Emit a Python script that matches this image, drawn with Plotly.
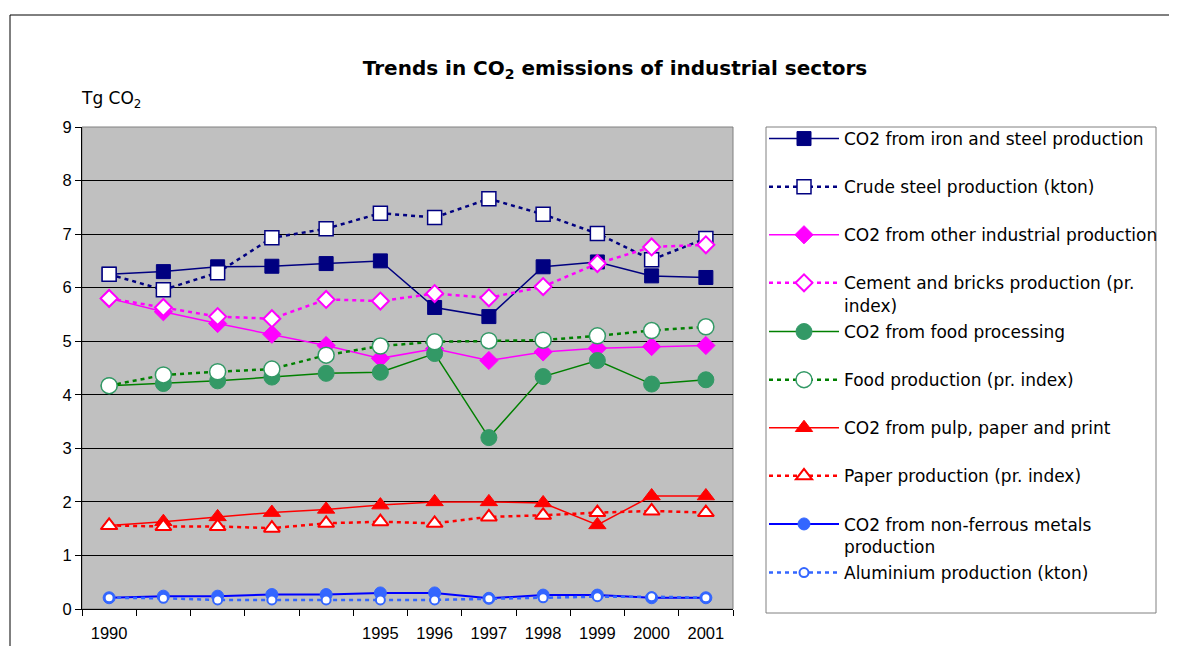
import plotly.graph_objects as go

years = [1990, 1991, 1992, 1993, 1994, 1995, 1996, 1997, 1998, 1999, 2000, 2001]
tick_years = [1990, 1995, 1996, 1997, 1998, 1999, 2000, 2001]

iron_steel = [6.25, 6.30, 6.39, 6.40, 6.45, 6.50, 5.63, 5.46, 6.39, 6.48, 6.22, 6.19]
crude_steel = [6.25, 5.96, 6.28, 6.93, 7.10, 7.39, 7.31, 7.66, 7.37, 7.01, 6.52, 6.92]
other_ind = [5.80, 5.55, 5.33, 5.13, 4.92, 4.68, 4.86, 4.64, 4.80, 4.87, 4.90, 4.92]
cement = [5.80, 5.63, 5.46, 5.42, 5.78, 5.75, 5.89, 5.81, 6.02, 6.45, 6.76, 6.80]
food_co2 = [4.17, 4.21, 4.26, 4.33, 4.40, 4.42, 4.77, 3.20, 4.34, 4.64, 4.20, 4.28]
food_prod = [4.17, 4.37, 4.43, 4.48, 4.74, 4.91, 4.99, 5.01, 5.02, 5.10, 5.20, 5.27]
pulp_co2 = [1.56, 1.63, 1.72, 1.80, 1.86, 1.94, 2.00, 2.00, 1.98, 1.57, 2.11, 2.11]
paper_prod = [1.56, 1.54, 1.54, 1.51, 1.60, 1.63, 1.60, 1.72, 1.75, 1.80, 1.83, 1.80]
nonferrous = [0.21, 0.24, 0.24, 0.27, 0.27, 0.30, 0.30, 0.20, 0.26, 0.26, 0.21, 0.21]
aluminium = [0.21, 0.20, 0.17, 0.17, 0.17, 0.17, 0.17, 0.19, 0.21, 0.23, 0.23, 0.21]

names = [
    "CO2 from iron and steel production",
    "Crude steel production (kton)",
    "CO2 from other industrial production",
    "Cement and bricks production (pr.<br>index)",
    "CO2 from food processing",
    "Food production (pr. index)",
    "CO2 from pulp, paper and print",
    "Paper production (pr. index)",
    "CO2 from non-ferrous metals<br>production",
    "Aluminium production (kton)",
]
legend_of = ["legend", "legend", "legend", "legend",
             "legend2", "legend2", "legend2", "legend2", "legend2",
             "legend3"]

DOT = "4px,4px"
styles = [
    (iron_steel, dict(color="#000080", width=1.5), dict(symbol="square", size=14, color="#000080", line=dict(color="#000080", width=1))),
    (crude_steel, dict(color="#000080", width=2.5, dash=DOT), dict(symbol="square", size=14, color="white", line=dict(color="#000080", width=1.5))),
    (other_ind, dict(color="#FF00FF", width=1.5), dict(symbol="diamond", size=14, color="#FF00FF", line=dict(color="#FF00FF", width=1))),
    (cement, dict(color="#FF00FF", width=2.5, dash=DOT), dict(symbol="diamond", size=13, color="white", line=dict(color="#FF00FF", width=2))),
    (food_co2, dict(color="#008000", width=1.5), dict(symbol="circle", size=16, color="#339966", line=dict(color="#339966", width=1))),
    (food_prod, dict(color="#008000", width=2.5, dash=DOT), dict(symbol="circle", size=16, color="white", line=dict(color="#339966", width=1.5))),
    (pulp_co2, dict(color="#FF0000", width=1.5), dict(symbol="triangle-up", size=15, color="#FF0000", line=dict(color="#FF0000", width=1))),
    (paper_prod, dict(color="#FF0000", width=2.5, dash=DOT), dict(symbol="triangle-up", size=14, color="white", line=dict(color="#FF0000", width=2))),
    (nonferrous, dict(color="#0000FF", width=2), dict(symbol="circle", size=12, color="#3366FF", line=dict(color="#3366FF", width=1))),
    (aluminium, dict(color="#3366FF", width=2.5, dash=DOT), dict(symbol="circle", size=9, color="white", line=dict(color="#3366FF", width=2))),
]

fig = go.Figure()
for i, (vals, ln, mk) in enumerate(styles):
    fig.add_trace(go.Scatter(
        x=years, y=vals, name=names[i], mode="lines+markers",
        line=ln, marker=mk, legendgroup=f"g{i}", legend=legend_of[i],
    ))

SANS = "Liberation Sans, Arial, sans-serif"
WIDE = "DejaVu Sans, sans-serif"

# page body has an 8px margin; work in window coordinates and convert
OFF = 8
W, H = 1177 - OFF, 646 - OFF
PL, PR, PT, PB = 82, 733, 127, 609  # plot area in window coords
L, R, T, B = PL - OFF, W - (PR - OFF), PT - OFF, H - (PB - OFF)
pw, ph = PR - PL, PB - PT

def px_x(x):
    return (x - PL) / pw

def px_y(y):
    return (PB - y) / ph

def leg(top_y):
    return dict(
        x=px_x(764), xanchor="left", y=px_y(top_y), yanchor="top",
        bgcolor="rgba(0,0,0,0)", borderwidth=0,
        font=dict(family=WIDE, size=17, color="black"),
        traceorder="grouped", tracegroupgap=23, valign="top",
        itemwidth=70, maxheight=600,
    )

fig.update_layout(
    width=W, height=H,
    margin=dict(l=L, r=R, t=T, b=B, autoexpand=False),
    paper_bgcolor="white",
    plot_bgcolor="#C0C0C0",
    font=dict(family=SANS, size=16, color="black"),
    title=dict(
        text="<b>Trends in CO<sub>2</sub> emissions of industrial sectors</b>",
        x=(615 - OFF) / W, xref="container", xanchor="center",
        y=1 - (68 - OFF) / H, yref="container", yanchor="middle",
        font=dict(family=WIDE, size=20, color="black"),
    ),
    showlegend=True,
    legend=leg(121),
    legend2=leg(314),
    legend3=leg(555),
    xaxis=dict(
        range=[1989.5, 2001.5], automargin=False,
        tickmode="array", tickvals=tick_years, ticktext=[str(y) for y in tick_years],
        ticks="", showgrid=False, zeroline=False,
        showline=True, linecolor="black", linewidth=1,
        tickfont=dict(family=SANS, size=16.5, color="black"),
        ticklabelstandoff=9,
        minor=dict(tick0=1989.5, dtick=1, ticks="outside", ticklen=6, tickcolor="black", tickwidth=1, showgrid=False),
        fixedrange=True,
    ),
    yaxis=dict(
        range=[0, 9], dtick=1, tick0=0, automargin=False,
        ticks="outside", ticklen=6, tickcolor="black",
        showgrid=True, gridcolor="black", gridwidth=1,
        zeroline=False, showline=True, linecolor="black", linewidth=1,
        tickfont=dict(family=SANS, size=16.5, color="black"),
        fixedrange=True,
    ),
    annotations=[
        dict(text="Tg CO<sub>2</sub>", x=px_x(79), y=px_y(100), xref="paper", yref="paper",
             xanchor="left", yanchor="middle", showarrow=False,
             font=dict(family=WIDE, size=17, color="black")),
    ],
    shapes=[
        # outer chart border
        dict(type="rect", xref="paper", yref="paper", x0=px_x(10), y0=px_y(700), x1=px_x(1300), y1=px_y(15),
             line=dict(color="black", width=1), fillcolor="rgba(0,0,0,0)", layer="below"),
        # plot area border (top/right gray)
        dict(type="rect", xref="paper", yref="paper", x0=0, y0=0, x1=1, y1=1,
             line=dict(color="#808080", width=1), fillcolor="rgba(0,0,0,0)", layer="below"),
        # legend box
        dict(type="rect", xref="paper", yref="paper", x0=px_x(766), y0=px_y(613), x1=px_x(1156), y1=px_y(127),
             line=dict(color="#808080", width=1), fillcolor="white", layer="below"),
    ],
)

fig.write_html("out.html")
